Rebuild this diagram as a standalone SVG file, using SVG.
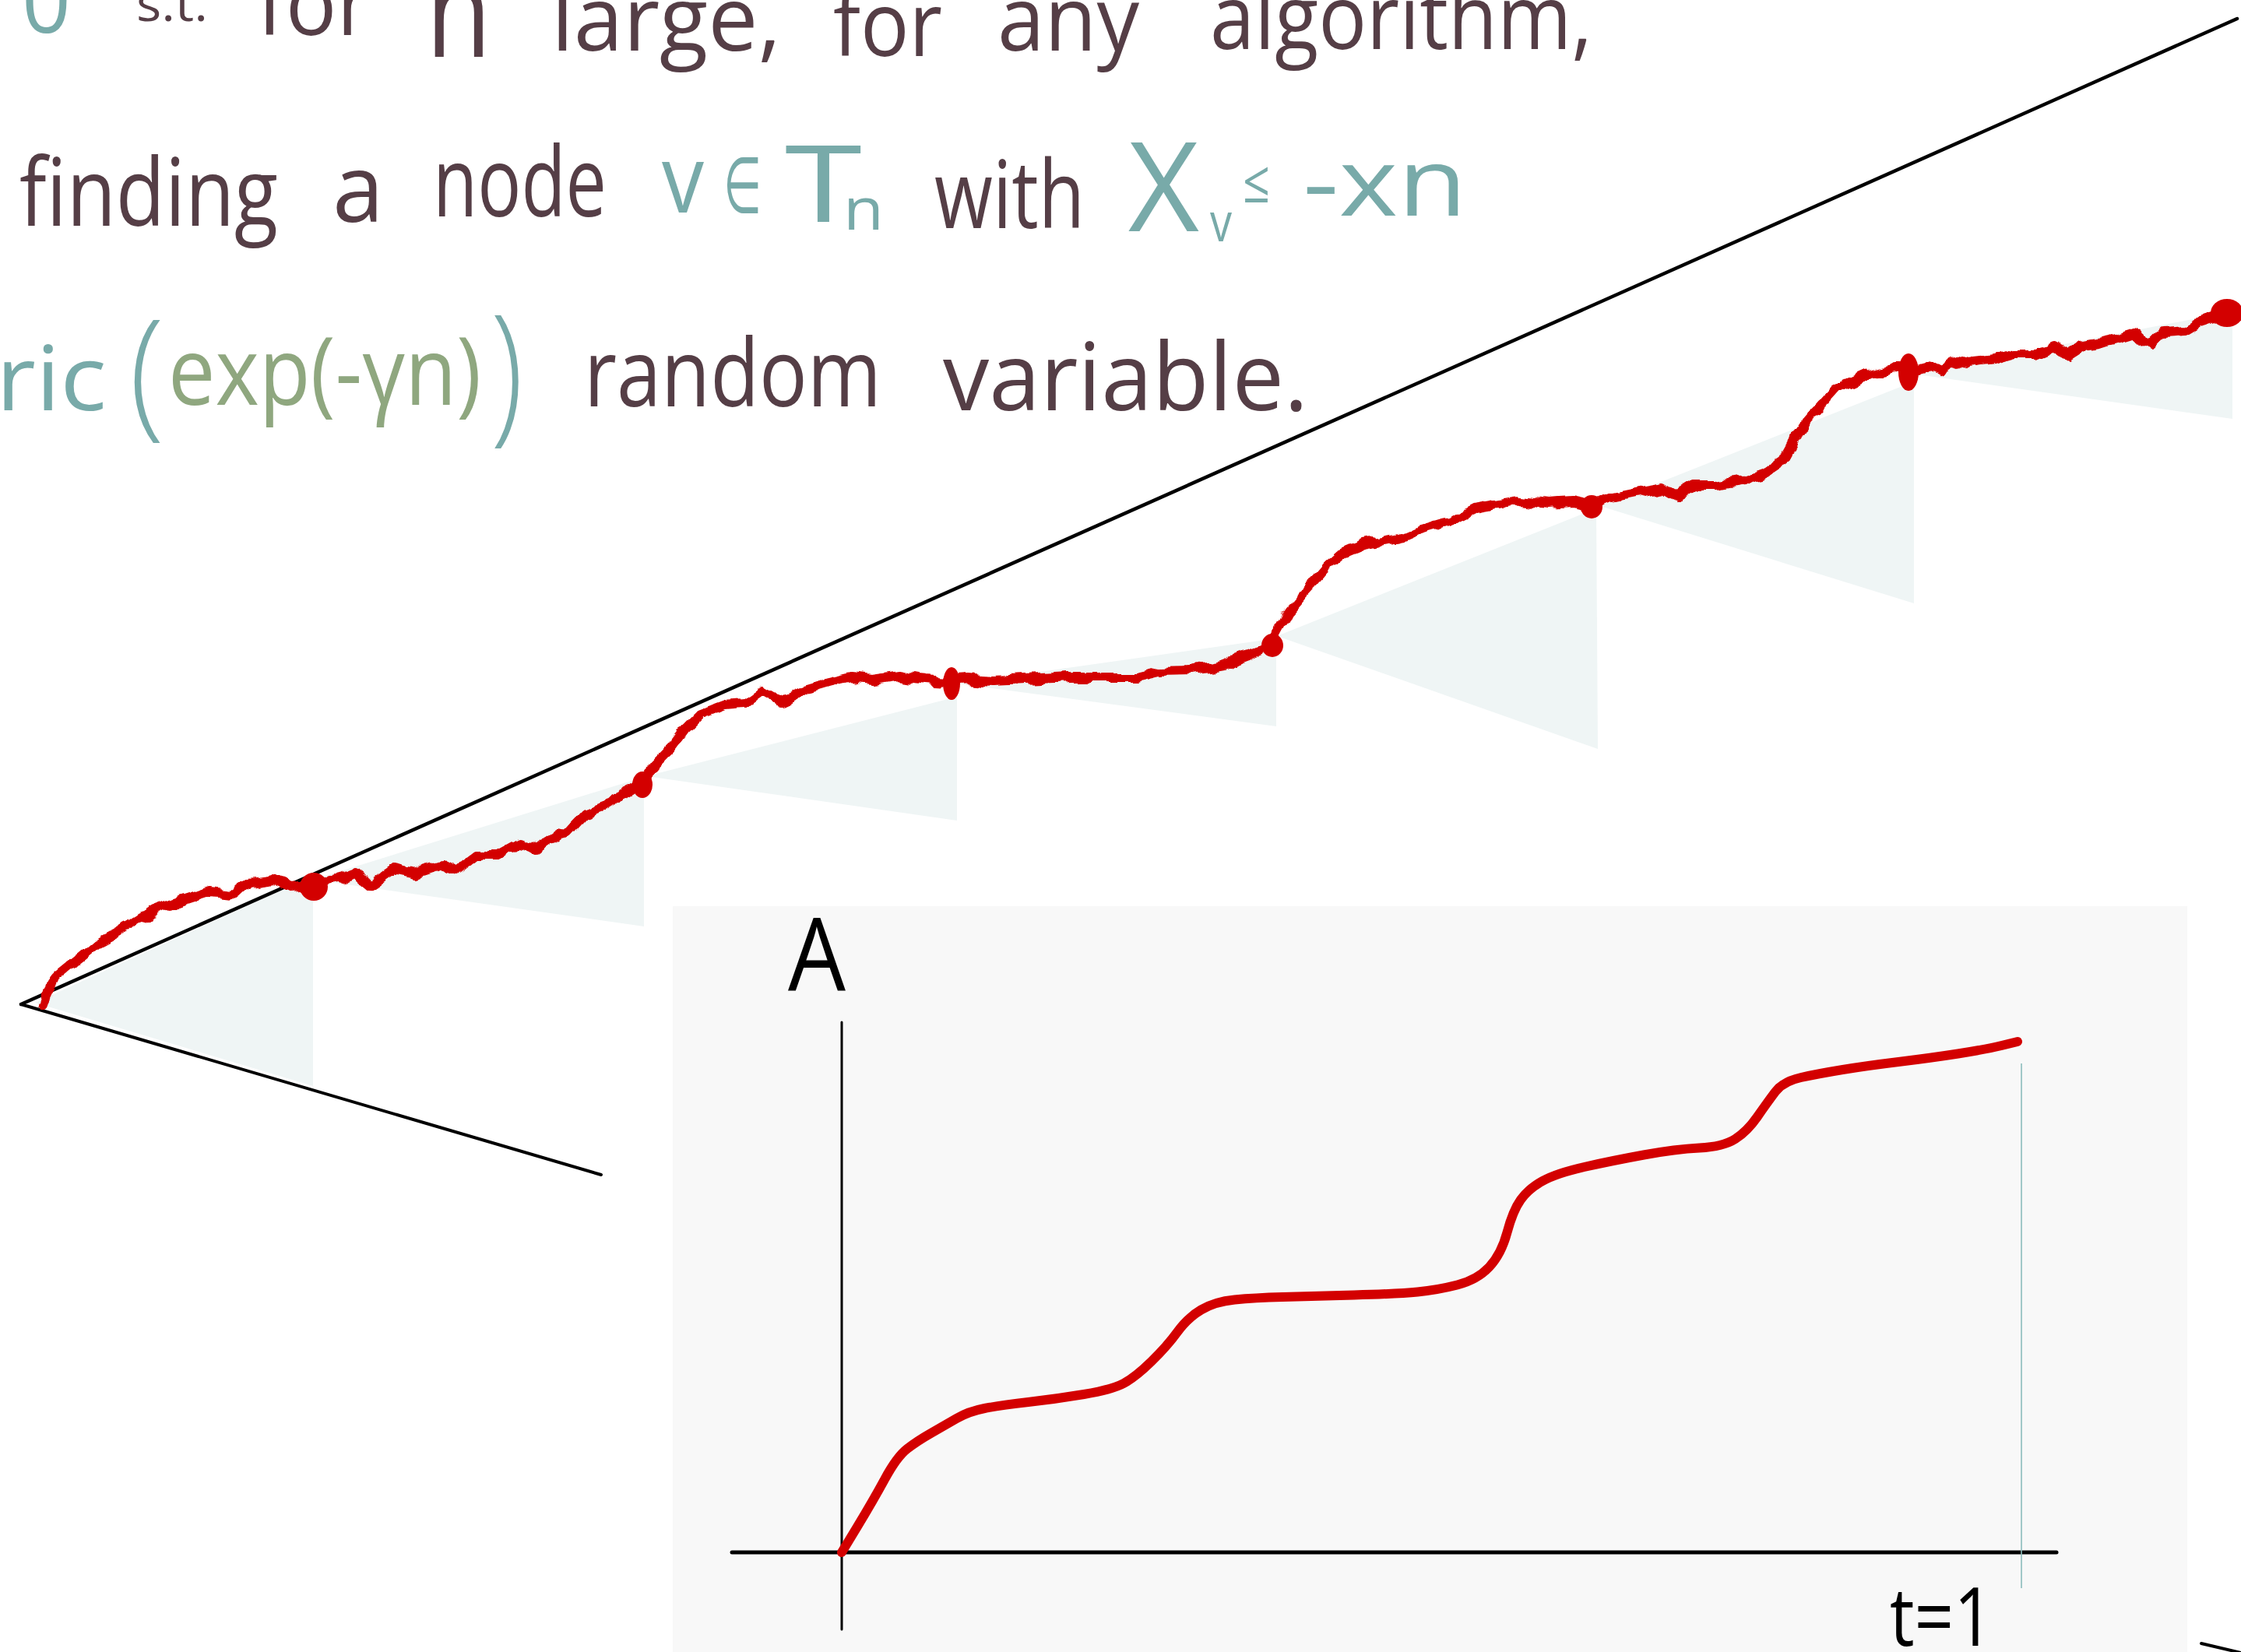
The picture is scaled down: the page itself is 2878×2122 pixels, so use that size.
<svg xmlns="http://www.w3.org/2000/svg" width="2878" height="2122" viewBox="0 0 2878 2122">
<style>
.t{font-family:"Open Sans","Noto Sans","DejaVu Sans",sans-serif;font-weight:400}
.dk{fill:#553e46}
.tl{fill:#78aaa9}
.gr{fill:#8fa77f}
.bk{fill:#000}
.shade{fill:#eff5f5}
.line{stroke:#000;fill:none;stroke-linecap:round;stroke-linejoin:round}
.red{stroke:#d30000;fill:none;stroke-linecap:round;stroke-linejoin:round}
.dot{fill:#d30000}
</style>
<defs>
<filter id="wob" x="-5%" y="-10%" width="110%" height="120%">
<feTurbulence type="fractalNoise" baseFrequency="0.04" numOctaves="2" seed="4"/>
<feDisplacementMap in="SourceGraphic" scale="15" xChannelSelector="R" yChannelSelector="G"/>
</filter>
<linearGradient id="fade" x1="0" y1="0" x2="0" y2="1">
<stop offset="0" stop-color="#000"/>
<stop offset="0.85" stop-color="#000"/>
<stop offset="1" stop-color="#000" stop-opacity="0"/>
</linearGradient>
</defs>
<rect width="2878" height="2122" fill="#fff"/>

<g id="text-line1" class="t">
<text class="tl" x="28" y="42" font-size="115" textLength="63" lengthAdjust="spacingAndGlyphs">0</text>
<text class="dk" x="175" y="27" font-size="62" textLength="92" lengthAdjust="spacingAndGlyphs">s.t.</text>
<text class="dk" x="330" y="45" font-size="115" textLength="147" lengthAdjust="spacingAndGlyphs">for</text>
<text class="dk" x="547" y="73" font-size="165" textLength="84" lengthAdjust="spacingAndGlyphs">n</text>
<text class="dk" x="708" y="65" font-size="115" textLength="295" lengthAdjust="spacingAndGlyphs">large,</text>
<text class="dk" x="1070" y="72" font-size="115" textLength="140" lengthAdjust="spacingAndGlyphs">for</text>
<text class="dk" x="1281" y="65" font-size="115" textLength="182" lengthAdjust="spacingAndGlyphs">any</text>
<text class="dk" x="1554" y="63" font-size="115" textLength="491" lengthAdjust="spacingAndGlyphs">algorithm,</text>
</g>

<g id="text-line2" class="t">
<text class="dk" x="25" y="290" font-size="120" textLength="332" lengthAdjust="spacingAndGlyphs">finding</text>
<text class="dk" x="427" y="285" font-size="120" textLength="66" lengthAdjust="spacingAndGlyphs">a</text>
<text class="dk" x="556" y="278" font-size="125" textLength="223" lengthAdjust="spacingAndGlyphs">node</text>
<text class="tl" x="850" y="273" font-size="120" textLength="54" lengthAdjust="spacingAndGlyphs">v</text>
<text class="tl" x="929" y="273" font-size="100" textLength="49" lengthAdjust="spacingAndGlyphs">∈</text>
<text class="tl" x="1008" y="285" font-size="137" textLength="99" lengthAdjust="spacingAndGlyphs">T</text>
<text class="tl" x="1083" y="295" font-size="75" textLength="52" lengthAdjust="spacingAndGlyphs">n</text>
<text class="dk" x="1200" y="293" font-size="120" textLength="193" lengthAdjust="spacingAndGlyphs">with</text>
<text class="tl" x="1449" y="297" font-size="160" textLength="91" lengthAdjust="spacingAndGlyphs">X</text>
<text class="tl" x="1554" y="310" font-size="70" textLength="28" lengthAdjust="spacingAndGlyphs">v</text>
<text class="tl" x="1596" y="260" font-size="75" textLength="35" lengthAdjust="spacingAndGlyphs">≤</text>
<text class="tl" x="1673" y="277" font-size="120" textLength="211" lengthAdjust="spacingAndGlyphs">-xn</text>
</g>

<g id="text-line3" class="t">
<text class="tl" x="-5" y="527" font-size="115" textLength="142" lengthAdjust="spacingAndGlyphs">ric</text>
<text class="tl" x="166" y="540" font-size="180" font-weight="300" textLength="45" lengthAdjust="spacingAndGlyphs">(</text>
<text class="gr" x="216" y="520" font-size="120" textLength="402" lengthAdjust="spacingAndGlyphs">exp(-γn)</text>
<text class="tl" x="630" y="545" font-size="195" font-weight="300" textLength="42" lengthAdjust="spacingAndGlyphs">)</text>
<text class="dk" x="750" y="522" font-size="120" textLength="382" lengthAdjust="spacingAndGlyphs">random</text>
<text class="dk" x="1211" y="527" font-size="120" textLength="469" lengthAdjust="spacingAndGlyphs">variable.</text>
</g>

<g id="subtrees">
<polygon id="sub1" class="shade" points="45,1288 402,1125 402,1395"/>
<polygon id="sub2" class="shade" points="402,1130 827,998 827,1190"/>
<polygon id="sub3" class="shade" points="830,997 1229,895 1229,1054"/>
<polygon id="sub4" class="shade" points="1230,878 1639,820 1639,933"/>
<polygon id="sub5" class="shade" points="1640,817 2050,653 2052,962"/>
<polygon id="sub6" class="shade" points="2055,650 2458,490 2458,775"/>
<polygon id="sub7" class="shade" points="2455,480 2867,400 2867,538"/>
</g>

<g id="tree-outline">
<line class="line" x1="27" y1="1290" x2="2873" y2="24" stroke-width="4.5"/>
<line class="line" x1="27" y1="1290" x2="772" y2="1509" stroke-width="4"/>
<line class="line" x1="2827" y1="2111" x2="2878" y2="2123" stroke-width="4"/>
<line x1="2875" y1="18" x2="2875" y2="1300" stroke="url(#fade)" stroke-width="5"/>
</g>

<g id="connectors" filter="url(#wob)">
<path class="red" stroke-width="12" d="M55,1290 L72,1254 L103,1229 L123,1212 L166,1189 L195,1171 L230,1158 L270,1145 L304,1149 L321,1133 L350,1129 L373,1140 L402,1138 L425,1131 L459,1122 L476,1136 L505,1116 L534,1122 L568,1111 L586,1120 L614,1098 L637,1098 L666,1082 L689,1091 L718,1069 L729,1071 L752,1046 L786,1033 L804,1015 L824,1004 L840,983 L863,960 L880,937 L900,917 L932,905 L955,903 L978,887 L1001,900 L1030,887 L1064,877 L1093,870 L1121,873 L1156,868 L1185,873 L1219,875 L1242,872 L1276,875 L1317,873 L1374,870 L1420,870 L1460,870 L1489,863 L1529,862 L1569,855 L1604,842 L1632,830 L1648,800 L1656,783 L1676,760 L1688,747 L1705,727 L1722,712 L1751,700 L1803,690 L1826,680 L1860,670 L1894,653 L1923,648 L1952,643 L1986,647 L2021,645 L2044,650 L2067,640 L2101,633 L2136,627 L2153,637 L2176,623 L2204,623 L2239,617 L2268,607 L2290,592 L2305,565 L2320,543 L2340,520 L2358,500 L2381,490 L2403,480 L2437,473 L2449,478 L2476,471 L2493,478 L2504,461 L2526,467 L2560,463 L2588,455 L2616,455 L2638,446 L2655,457 L2672,446 L2694,442 L2722,436 L2745,429 L2761,444 L2778,427 L2806,425 L2823,415 L2851,406 L2862,400"/>
</g>

<g id="nodes">
<ellipse id="n1" class="dot" cx="403" cy="1139" rx="18" ry="18"/>
<ellipse id="n2" class="dot" cx="825" cy="1008" rx="13" ry="17"/>
<ellipse id="n3" class="dot" cx="1222" cy="878" rx="11" ry="21"/>
<ellipse id="n4" class="dot" cx="1634" cy="829" rx="14" ry="15"/>
<ellipse id="n5" class="dot" cx="2044" cy="651" rx="14" ry="15"/>
<ellipse id="n6" class="dot" cx="2451" cy="478" rx="13" ry="24"/>
<ellipse id="n7" class="dot" cx="2860" cy="402" rx="21" ry="18"/>
</g>

<g id="inset">
<rect x="864" y="1164" width="1945" height="958" fill="#f8f8f8"/>
<text class="t bk" x="1012" y="1273" font-size="130" font-weight="600" textLength="74" lengthAdjust="spacingAndGlyphs">A</text>
<line class="line" x1="1081" y1="1313" x2="1081" y2="2093" stroke-width="3"/>
<line class="line" x1="940" y1="1994" x2="2641" y2="1994" stroke-width="5"/>
<line x1="2596" y1="1366" x2="2596" y2="2040" stroke="#8bbcbc" stroke-width="1.6"/>
<text class="t bk" x="2427" y="2114" font-size="104" textLength="133" lengthAdjust="spacingAndGlyphs">t=1</text>
<path class="red" stroke-width="12" d="M1081,1994 L1101,1961 Q1121,1928 1136.5,1899.5 Q1152,1871 1165,1861 Q1178,1851 1195.5,1841 Q1213,1831 1228.5,1822 Q1244,1813 1264.5,1809 Q1285,1805 1320.5,1801 Q1356,1797 1392,1791 Q1428,1785 1443,1777 Q1458,1769 1478.5,1749 Q1499,1729 1512,1711 Q1525,1693 1542.5,1682.5 Q1560,1672 1585.5,1669.5 Q1611,1667 1647,1666 Q1683,1665 1739,1663.5 Q1795,1662 1820.5,1659.5 Q1846,1657 1871.5,1650.5 Q1897,1644 1912.5,1627.5 Q1928,1611 1935.5,1583 Q1943,1555 1953,1541 Q1963,1527 1981,1517 Q1999,1507 2034.5,1499 Q2070,1491 2111,1483.5 Q2152,1476 2182.5,1474.5 Q2213,1473 2228.5,1463 Q2244,1453 2256.5,1435 Q2269,1417 2279.5,1403 Q2290,1389 2313,1384 Q2336,1379 2366.5,1374 Q2397,1369 2438,1364 Q2479,1359 2514.5,1353.5 Q2550,1348 2570.5,1343 L2591,1338"/>
</g>
</svg>
